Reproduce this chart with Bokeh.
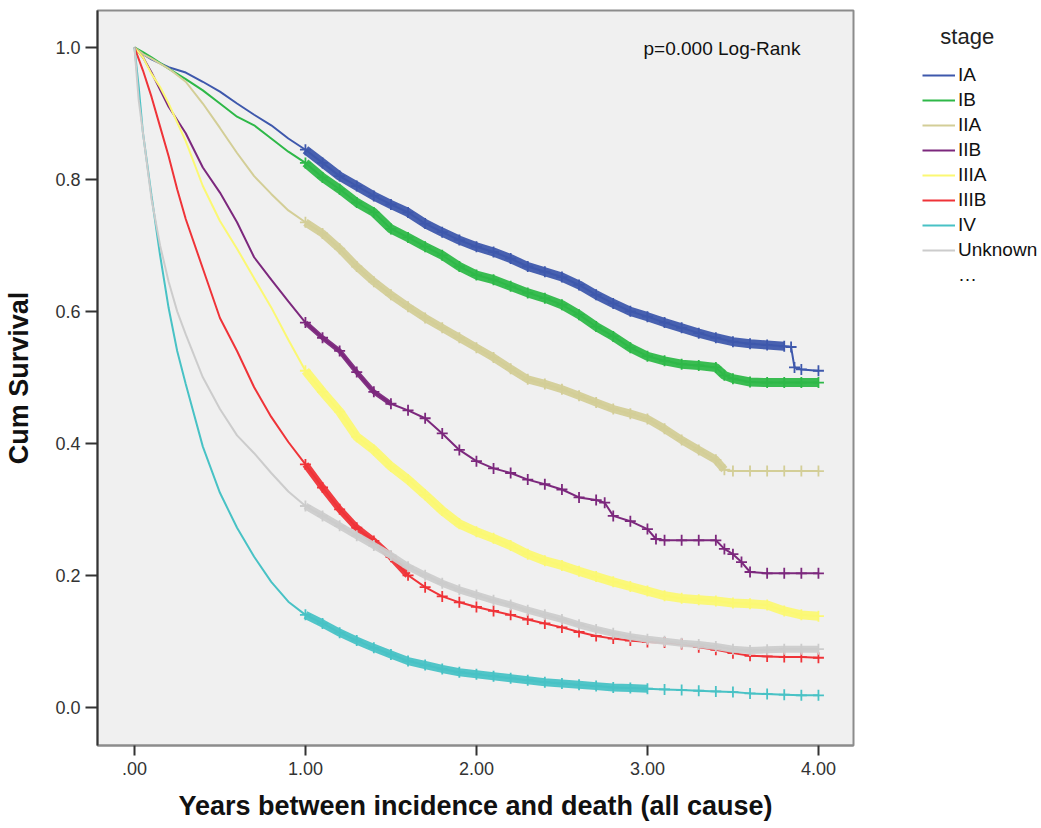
from bokeh.plotting import figure
from bokeh.layouts import row
from bokeh.models import Range1d, FixedTicker, Legend, LegendItem, Label
from bokeh.embed import file_html
from bokeh.resources import INLINE

# ---------------- data ----------------
stages = ["IA", "IB", "IIA", "IIB", "IIIA", "IIIB", "IV", "Unknown"]
colors = ["#3E58AC", "#2EB848", "#D3CE97", "#7C287D", "#FBF873", "#EF3338", "#48C2C5", "#CCCCCC"]
legend_title = "stage"
legend_more = "…"
test_label = "p=0.000 Log-Rank"

x_ticks = [0, 1, 2, 3, 4]
x_tick_labels = [".00", "1.00", "2.00", "3.00", "4.00"]
y_ticks = [0.0, 0.2, 0.4, 0.6, 0.8, 1.0]
y_tick_labels = ["0.0", "0.2", "0.4", "0.6", "0.8", "1.0"]

years_late = [1.0, 1.1, 1.2, 1.3, 1.4, 1.5, 1.6, 1.7, 1.8, 1.9,
              2.0, 2.1, 2.2, 2.3, 2.4, 2.5, 2.6, 2.7, 2.8, 2.9,
              3.0, 3.1, 3.2, 3.3, 3.4, 3.5, 3.6, 3.7, 3.8, 3.9, 4.0]

t_ia = [0, 0.05, 0.1, 0.2, 0.3, 0.4, 0.5, 0.6, 0.7, 0.8, 0.9,
        1.0, 1.1, 1.2, 1.3, 1.4, 1.5, 1.6, 1.7, 1.8, 1.9,
        2.0, 2.1, 2.2, 2.3, 2.4, 2.5, 2.6, 2.7, 2.8, 2.9,
        3.0, 3.1, 3.2, 3.3, 3.4, 3.5, 3.6, 3.7, 3.8, 3.84, 3.86, 3.9, 4.0]
s_ia = [1.0, 0.99, 0.982, 0.97, 0.962, 0.948, 0.933, 0.915, 0.898, 0.882, 0.862,
        0.845, 0.825, 0.805, 0.79, 0.775, 0.762, 0.75, 0.733, 0.72, 0.708,
        0.698, 0.69, 0.68, 0.668, 0.66, 0.652, 0.64, 0.625, 0.612, 0.60,
        0.592, 0.583, 0.575, 0.567, 0.56, 0.554, 0.551, 0.549, 0.547, 0.546, 0.515, 0.512, 0.51]

t_ib = [0, 0.05, 0.1, 0.2, 0.3, 0.4, 0.5, 0.6, 0.7, 0.8, 0.9,
        1.0, 1.1, 1.2, 1.3, 1.4, 1.5, 1.6, 1.7, 1.8, 1.9,
        2.0, 2.1, 2.2, 2.3, 2.4, 2.5, 2.6, 2.7, 2.8, 2.9,
        3.0, 3.1, 3.2, 3.3, 3.4, 3.45, 3.5, 3.6, 3.7, 3.8, 3.9, 4.0]
s_ib = [1.0, 0.993, 0.985, 0.968, 0.952, 0.935, 0.915, 0.895, 0.882, 0.862, 0.842,
        0.825, 0.803, 0.785, 0.765, 0.75, 0.725, 0.712, 0.698, 0.685, 0.668,
        0.655, 0.648, 0.638, 0.628, 0.62, 0.61, 0.595, 0.577, 0.562, 0.545,
        0.532, 0.525, 0.52, 0.518, 0.515, 0.503, 0.498, 0.493, 0.492, 0.492, 0.492, 0.492]

t_iia = [0, 0.05, 0.1, 0.2, 0.3, 0.4, 0.5, 0.6, 0.7, 0.8, 0.9,
         1.0, 1.1, 1.2, 1.3, 1.4, 1.5, 1.6, 1.7, 1.8, 1.9,
         2.0, 2.1, 2.2, 2.3, 2.4, 2.5, 2.6, 2.7, 2.8, 2.9,
         3.0, 3.1, 3.2, 3.3, 3.4, 3.45, 3.5, 3.6, 3.7, 3.8, 3.9, 4.0]
s_iia = [1.0, 0.99, 0.983, 0.968, 0.948, 0.915, 0.878, 0.84, 0.805, 0.778, 0.753,
         0.735, 0.718, 0.695, 0.668, 0.645, 0.625, 0.607, 0.59, 0.575, 0.56,
         0.545, 0.53, 0.513, 0.497, 0.49, 0.482, 0.472, 0.462, 0.452, 0.445,
         0.437, 0.422, 0.405, 0.39, 0.375, 0.36, 0.358, 0.358, 0.358, 0.358, 0.358, 0.358]

t_iib = [0, 0.05, 0.1, 0.2, 0.3, 0.4, 0.5, 0.6, 0.7, 0.8, 0.9,
         1.0, 1.1, 1.2, 1.3, 1.4, 1.5, 1.6, 1.7, 1.8, 1.9,
         2.0, 2.1, 2.2, 2.3, 2.4, 2.5, 2.6, 2.7, 2.75, 2.8, 2.9,
         3.0, 3.05, 3.1, 3.2, 3.3, 3.4, 3.45, 3.5, 3.55, 3.6, 3.7, 3.8, 3.9, 4.0]
s_iib = [1.0, 0.985, 0.962, 0.91, 0.87, 0.818, 0.78, 0.735, 0.682, 0.648, 0.615,
         0.583, 0.56, 0.54, 0.508, 0.478, 0.46, 0.45, 0.438, 0.415, 0.39,
         0.373, 0.362, 0.355, 0.345, 0.338, 0.33, 0.318, 0.314, 0.31, 0.29, 0.282,
         0.27, 0.255, 0.253, 0.253, 0.253, 0.253, 0.24, 0.232, 0.22, 0.205, 0.203, 0.203, 0.203, 0.203]

t_iiia = [0, 0.05, 0.1, 0.15, 0.2, 0.3, 0.4, 0.5, 0.6, 0.7, 0.8, 0.9] + years_late
s_iiia = [1.0, 0.985, 0.96, 0.94, 0.915, 0.858, 0.79, 0.737, 0.695, 0.65, 0.606, 0.557,
          0.51, 0.478, 0.448, 0.41, 0.39, 0.365, 0.345, 0.322, 0.298, 0.278,
          0.266, 0.256, 0.245, 0.232, 0.222, 0.215, 0.206, 0.198, 0.19, 0.183,
          0.176, 0.169, 0.165, 0.163, 0.161, 0.158, 0.157, 0.155, 0.146, 0.14, 0.138]

t_iiib = [0, 0.05, 0.1, 0.15, 0.2, 0.25, 0.3, 0.4, 0.5, 0.6, 0.7, 0.8, 0.9] + years_late
s_iiib = [1.0, 0.965, 0.925, 0.88, 0.835, 0.785, 0.74, 0.665, 0.59, 0.54, 0.485, 0.44, 0.402,
          0.368, 0.333, 0.30, 0.272, 0.252, 0.228, 0.2, 0.182, 0.168, 0.159,
          0.152, 0.146, 0.14, 0.133, 0.127, 0.121, 0.114, 0.108, 0.104, 0.101,
          0.099, 0.098, 0.096, 0.091, 0.087, 0.082, 0.078, 0.077, 0.076, 0.076, 0.075]

t_iv = [0, 0.025, 0.05, 0.1, 0.15, 0.2, 0.25, 0.3, 0.4, 0.5, 0.6, 0.7, 0.8, 0.9] + years_late
s_iv = [1.0, 0.94, 0.87, 0.775, 0.685, 0.605, 0.54, 0.49, 0.395, 0.325, 0.272, 0.228, 0.19, 0.16,
        0.14, 0.127, 0.113, 0.101, 0.09, 0.08, 0.07, 0.064, 0.058, 0.053,
        0.05, 0.047, 0.044, 0.041, 0.038, 0.036, 0.034, 0.032, 0.03, 0.029,
        0.028, 0.027, 0.026, 0.025, 0.024, 0.023, 0.021, 0.02, 0.019, 0.018, 0.018]

t_unk = [0, 0.025, 0.05, 0.1, 0.15, 0.2, 0.25, 0.3, 0.4, 0.5, 0.6, 0.7, 0.8, 0.9] + years_late
s_unk = [1.0, 0.92, 0.87, 0.77, 0.70, 0.645, 0.60, 0.565, 0.50, 0.452, 0.412, 0.385, 0.355, 0.327,
         0.305, 0.29, 0.275, 0.26, 0.245, 0.23, 0.213, 0.2, 0.188, 0.178,
         0.17, 0.162, 0.155, 0.147, 0.14, 0.133, 0.125, 0.118, 0.112, 0.107,
         0.103, 0.1, 0.097, 0.095, 0.092, 0.088, 0.086, 0.087, 0.088, 0.088, 0.088]

series = [(t_ia, s_ia), (t_ib, s_ib), (t_iia, s_iia), (t_iib, s_iib),
          (t_iiia, s_iiia), (t_iiib, s_iiib), (t_iv, s_iv), (t_unk, s_unk)]

# ---------------- styles ----------------
FONT = "Liberation Sans"
censor_from = 1.0
band_end = {"IA": 3.8, "IB": 4.0, "IIA": 3.45, "IIB": 1.5, "IIIA": 4.0, "IIIB": 1.6, "IV": 3.0, "Unknown": 4.0}
band_width = {"IA": 9, "IB": 9, "IIA": 8, "IIB": 5, "IIIA": 9, "IIIB": 7, "IV": 8, "Unknown": 7}

H = 826
p = figure(width=855, height=H, output_backend="svg", toolbar_location=None,
           x_range=Range1d(-0.216, 4.205), y_range=Range1d(-0.058, 1.056),
           min_border_left=97, min_border_top=10, min_border_right=2, min_border_bottom=81)
p.title.visible = False
p.background_fill_color = "#F0F0F0"
p.border_fill_color = "white"
p.outline_line_color = "#8C8C8C"
p.outline_line_width = 2
p.grid.visible = False

p.xaxis.ticker = FixedTicker(ticks=x_ticks)
p.xaxis.major_label_overrides = {t: l for t, l in zip(x_ticks, x_tick_labels)}
p.yaxis.ticker = FixedTicker(ticks=y_ticks)
p.yaxis.major_label_overrides = {t: l for t, l in zip(y_ticks, y_tick_labels)}
for ax in (p.xaxis[0], p.yaxis[0]):
    ax.minor_tick_line_color = None
    ax.major_tick_in = 0
    ax.major_label_text_font = FONT
    ax.major_label_text_font_size = "18px"
    ax.major_label_text_color = "#333333"
    ax.axis_label_text_font = FONT
    ax.axis_label_text_font_style = "bold"
    ax.axis_label_text_font_size = "27px"
    ax.axis_label_text_color = "#111111"
p.xaxis.axis_label = "Years between incidence and death (all cause)"
p.yaxis.axis_label = "Cum Survival"
p.xaxis.axis_line_color = "#8C8C8C"
p.xaxis.axis_line_width = 2
p.xaxis.major_tick_out = 10
p.xaxis.major_tick_line_color = "#333333"
p.xaxis.major_tick_line_width = 2
p.xaxis.major_label_standoff = 6
p.xaxis.axis_label_standoff = 13
p.yaxis.axis_line_color = "#333333"
p.yaxis.axis_line_width = 2
p.yaxis.major_tick_out = 12
p.yaxis.major_tick_line_color = "#333333"
p.yaxis.major_tick_line_width = 2
p.yaxis.major_label_standoff = 5
p.yaxis.axis_label_standoff = 18

for name, col, (tt, ss) in zip(stages, colors, series):
    # censored band / marks after the first year
    bt = [t for t in tt if censor_from <= t <= band_end[name]]
    bs = [s for t, s in zip(tt, ss) if censor_from <= t <= band_end[name]]
    p.line(bt, bs, line_color=col, line_width=band_width[name], line_alpha=0.95)
    ct = [t for t in tt if t >= censor_from]
    cs = [s for t, s in zip(tt, ss) if t >= censor_from]
    p.scatter(ct, cs, marker="cross", size=11, line_color=col, line_width=1.8)
    p.line(tt, ss, line_color=col, line_width=2)

p.add_layout(Label(x=2.977, y=0.998, text=test_label, text_font=FONT, text_font_size="19px",
                   text_align="left", text_baseline="middle", text_color="#111111"))

# ---------------- legend panel (separate figure to the right) ----------------
lg = figure(width=185, height=H, output_backend="svg", toolbar_location=None,
            x_axis_type=None, y_axis_type=None, x_range=Range1d(0, 1), y_range=Range1d(0, 1),
            min_border=0, outline_line_color=None)
lg.title.visible = False
lg.background_fill_color = "white"
lg.border_fill_color = "white"
lg.grid.visible = False
nan = float("nan")
items = []
for name, col in zip(stages, colors):
    r = lg.line([nan, nan], [nan, nan], line_color=col, line_width=2)
    items.append(LegendItem(label=name, renderers=[r]))
r_more = lg.line([nan, nan], [nan, nan], line_alpha=0)
items.append(LegendItem(label=legend_more, renderers=[r_more]))

legend = Legend(items=items, location=(67, 459), padding=0, margin=0, spacing=3,
                glyph_width=33, glyph_height=20, label_height=20, label_standoff=3,
                label_text_font=FONT, label_text_font_size="19px", label_text_color="#111111",
                title="\u00a0\u00a0\u00a0" + legend_title, title_text_font=FONT,
                title_text_font_size="22px", title_text_font_style="normal",
                title_text_color="#222222", title_standoff=14,
                background_fill_alpha=0, border_line_alpha=0)
lg.add_layout(legend)

layout = row(p, lg)
open("out.html", "w").write(file_html(layout, INLINE))
